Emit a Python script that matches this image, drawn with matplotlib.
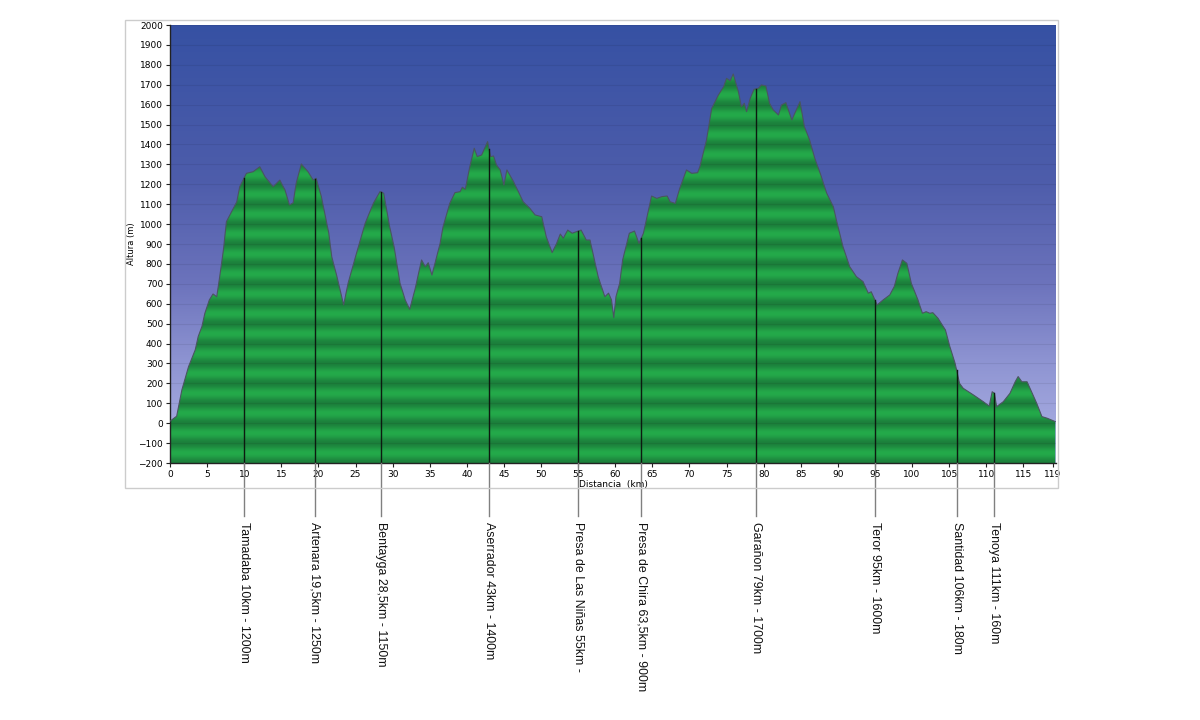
import matplotlib
matplotlib.use("Agg")
import matplotlib.pyplot as plt
import matplotlib.transforms as mtransforms
from matplotlib.colors import LinearSegmentedColormap
from matplotlib.patches import Rectangle
import numpy as np

# elevation profile (km, m)
dist_km = [
    0.0, 0.9, 1.6, 2.5, 3.4, 3.8, 4.3, 4.7, 5.3, 5.8, 6.3, 6.7, 7.2, 7.6, 8.3, 9.0,
    9.4, 10.3, 11.2, 12.1, 12.8, 13.9, 14.8, 15.5, 16.1, 16.6, 17.0, 17.7, 18.6,
    19.3, 19.7, 20.4, 21.4, 21.8, 22.5, 23.4, 24.0, 25.0, 26.3, 27.4, 28.3, 28.8,
    29.2, 29.6, 30.2, 31.0, 31.7, 32.3, 33.0, 33.9, 34.4, 34.8, 35.3, 36.4, 36.8,
    37.7, 38.4, 39.1, 39.4, 39.8, 40.4, 41.0, 41.4, 42.0, 42.8, 43.2, 43.6, 44.0,
    44.5, 45.0, 45.4, 46.3, 47.6, 48.5, 49.2, 50.1, 50.7, 51.5, 52.1, 52.6, 53.0,
    53.6, 54.2, 54.8, 55.4, 56.1, 56.6, 57.7, 58.6, 59.1, 59.5, 59.8, 60.1, 60.6,
    61.0, 61.9, 62.6, 63.2, 63.8, 64.9, 65.6, 66.3, 67.0, 67.4, 68.1, 68.7, 69.6,
    70.3, 71.1, 71.4, 72.3, 73.0, 73.9, 74.6, 75.0, 75.5, 75.9, 76.6, 77.0, 77.4,
    77.7, 78.2, 78.7, 79.3, 79.7, 80.3, 80.8, 81.3, 82.0, 82.4, 83.0, 83.8, 84.9,
    85.5, 86.2, 86.9, 87.7, 88.5, 89.4, 89.8, 90.7, 91.6, 92.5, 93.4, 94.1, 94.5,
    95.3, 96.1, 97.0, 97.6, 98.1, 98.7, 99.3, 99.9, 100.8, 101.4, 101.9, 102.4,
    102.8, 103.5, 104.5, 105.1, 105.8, 106.4, 106.9, 108.3, 109.6, 110.4, 110.8,
    111.1, 111.4, 112.3, 113.2, 113.9, 114.3, 114.8, 115.5, 116.1, 116.8, 117.5,
    118.2, 119.3,
]
altura_m = [
    10, 35, 167, 284, 368, 435, 485, 552, 619, 649, 635, 736, 870, 1012, 1062, 1112,
    1188, 1255, 1263, 1288, 1238, 1188, 1221, 1171, 1096, 1107, 1205, 1302, 1263,
    1221, 1230, 1138, 954, 836, 736, 594, 703, 836, 1004, 1104, 1163, 1155,
    1071, 987, 886, 703, 619, 572, 669, 820, 786, 806, 744, 903, 987,
    1104, 1158, 1163, 1185, 1175, 1288, 1381, 1339, 1347, 1414, 1339, 1342, 1297,
    1272, 1196, 1272, 1213, 1112, 1079, 1046, 1037, 937, 857, 903, 950, 929,
    970, 954, 962, 970, 920, 920, 736, 635, 653, 619, 530, 635, 703,
    820, 954, 965, 903, 954, 1141, 1129, 1138, 1141, 1112, 1104, 1180, 1272,
    1255, 1258, 1288, 1422, 1581, 1648, 1690, 1732, 1720, 1754, 1665, 1590, 1607,
    1565, 1632, 1677, 1682, 1699, 1694, 1607, 1573, 1548, 1598, 1610, 1523, 1615,
    1489, 1422, 1330, 1247, 1155, 1087, 1021, 886, 786, 736, 711, 653, 660,
    594, 619, 644, 686, 753, 820, 803, 703, 619, 552, 560, 552,
    555, 527, 468, 384, 301, 200, 175, 141, 108, 86, 158,
    150, 83, 108, 150, 208, 234, 208, 208, 158, 100, 33,
    25, 8,
]

# waypoints: position on the route and label text
marker_km = [10, 19.5, 28.5, 43, 55, 63.5, 79, 95, 106, 111]
marker_labels = [
    "Tamadaba 10km - 1200m",
    "Artenara 19,5km - 1250m",
    "Bentayga 28,5km - 1150m",
    "Aserrador 43km - 1400m",
    "Presa de Las Niñas 55km -",
    "Presa de Chira 63,5km - 900m",
    "Garañon 79km - 1700m",
    "Teror 95km - 1600m",
    "Santidad 106km - 180m",
    "Tenoya 111km - 160m",
]

x_ticks = list(range(0, 120, 5)) + [119]
y_ticks = list(range(-200, 2001, 100))

Y_MIN, Y_MAX = -200, 2000
X_MAX = 119.4

fig = plt.figure(figsize=(12, 7.2), dpi=100)
fig.patches.append(Rectangle((125 / 1200, 1 - 488 / 720), 933 / 1200, 468 / 720,
                             transform=fig.transFigure, fill=False,
                             edgecolor="#cccccc", lw=1.0, zorder=0))
ax = fig.add_axes([170 / 1200, 1 - 463 / 720, 886 / 1200, 438 / 720])

# sky gradient
sky = LinearSegmentedColormap.from_list("sky", [
    (0.0, (176 / 255, 180 / 255, 230 / 255)),
    (0.23, (142 / 255, 148 / 255, 210 / 255)),
    (0.41, (108 / 255, 115 / 255, 188 / 255)),
    (0.64, (78 / 255, 93 / 255, 171 / 255)),
    (1.0, (54 / 255, 81 / 255, 163 / 255)),
])
grad = np.linspace(0, 1, 512).reshape(-1, 1)
ax.imshow(grad, cmap=sky, origin="lower", aspect="auto",
          extent=[0, X_MAX, Y_MIN, Y_MAX], zorder=0)

# banded green fill clipped to the profile
yy = np.linspace(Y_MIN, Y_MAX, 2200)
t = np.mod(yy, 100) / 100.0
shade = 0.5 - 0.5 * np.cos(2 * np.pi * t)
dark = np.array([28, 128, 60]) / 255
bright = np.array([36, 170, 74]) / 255
band = dark[None, :] * (1 - shade[:, None]) + bright[None, :] * shade[:, None]
band_img = band[:, None, :]
poly = ax.fill_between(dist_km, altura_m, Y_MIN, facecolor="none", edgecolor="none")
im = ax.imshow(band_img, origin="lower", aspect="auto",
               extent=[0, X_MAX, Y_MIN, Y_MAX], zorder=1, interpolation="bilinear")
im.set_clip_path(poly.get_paths()[0], transform=ax.transData)
ax.plot(dist_km, altura_m, color="#4a5560", lw=0.8, zorder=3)

for yv in y_ticks:
    ax.axhline(yv, color="black", alpha=0.07, lw=0.8, zorder=2)

# waypoint lines and labels
trans = mtransforms.blended_transform_factory(ax.transData, ax.transAxes)
for km, lab in zip(marker_km, marker_labels):
    top = np.interp(km, dist_km, altura_m)
    ax.plot([km, km], [Y_MIN, top], color="#0c1a10", lw=1.0, zorder=4)
    ax.plot([km, km], [0, -0.12], color="#808080", lw=1.0, transform=trans,
            clip_on=False, zorder=4)
    ax.text(km, -0.135, lab, transform=trans, rotation=270, ha="center", va="top",
            fontsize=8.9, family="Liberation Sans", color="#111111")

ax.set_xlim(0, X_MAX)
ax.set_ylim(Y_MIN, Y_MAX)
ax.set_xticks(x_ticks)
ax.set_yticks(y_ticks)
ax.tick_params(labelsize=6.5, length=3, width=0.8, color="#222222", pad=2)
for s in ["top", "right"]:
    ax.spines[s].set_visible(False)
for s in ["left", "bottom"]:
    ax.spines[s].set_color("#222222")
    ax.spines[s].set_linewidth(1.0)
ax.set_ylabel("Altura (m)", fontsize=6, labelpad=2)
ax.set_xlabel("Distancia  (km)", fontsize=6.5, labelpad=1)

fig.savefig("out.png", dpi=100)
